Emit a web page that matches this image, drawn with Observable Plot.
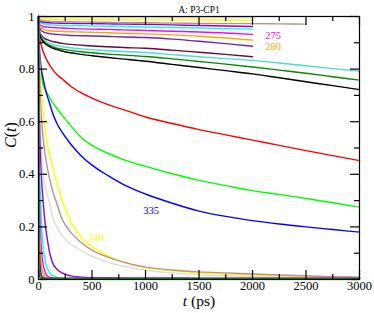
<!DOCTYPE html>
<html><head><meta charset="utf-8">
<script src="https://cdn.jsdelivr.net/npm/d3@7"></script>
<script src="https://cdn.jsdelivr.net/npm/@observablehq/plot@0.6"></script>
<style>
body{margin:0;background:#fff}
#chart{width:374px;height:313px}
#chart svg, #chart svg text{font-family:"Liberation Serif","Times New Roman",serif !important}
</style>
</head><body><div id="chart"></div>
<script>
const title = "A: P3-CP1";
const xLabel = "t (ps)";
const yLabel = "C(t)";
const xMajor = [0, 500, 1000, 1500, 2000, 2500, 3000];
const xMinor = [250, 750, 1250, 1750, 2250, 2750];
const xTickLabels = ["0", "500", "1000", "1500", "2000", "2500", "3000"];
const yMajor = [0, 0.2, 0.4, 0.6, 0.8, 1];
const yMinor = [0.1, 0.3, 0.5, 0.7, 0.9];
const yTickLabels = ["0", "0.2", "0.4", "0.6", "0.8", "1"];

const times = [0, 2, 5, 10, 20, 30, 45, 60, 80, 100, 130, 170, 220, 300, 400, 500, 650, 800, 1000, 1250, 1500, 1750, 2000, 2250, 2500, 2750, 3000];

// slow sets (end at 2000 ps, one at 2500 ps)
const sGray    = [1,.999,.998,.998,.997,.997,.997,.997,.996,.996,.996,.996,.996,.996,.995,.995,.995,.995,.995,.995,.995,.995,.995];
const sYellow  = [1,.996,.994,.993,.992,.991,.991,.990,.990,.990,.989,.989,.989,.989,.988,.988,.988,.988,.987,.987,.987,.986,.986];
const sBrown   = [1,.993,.990,.988,.986,.985,.984,.983,.982,.982,.981,.981,.980,.980,.979,.979,.978,.977,.976,.975,.974,.973,.973,.972,.971];
const sViolet  = [1,.990,.986,.983,.980,.979,.978,.977,.976,.976,.975,.975,.974,.974,.973,.973,.972,.971,.970,.968,.966,.964,.962];
const sCyan    = [1,.987,.982,.978,.975,.973,.972,.971,.970,.969,.968,.967,.966,.966,.965,.964,.963,.962,.960,.958,.956,.954,.952];
const s275     = [1,.982,.975,.970,.966,.964,.962,.961,.960,.959,.958,.957,.956,.955,.953,.952,.951,.949,.947,.944,.941,.937,.932];
const s280     = [1,.978,.970,.963,.957,.954,.951,.949,.947,.946,.945,.944,.943,.942,.941,.940,.938,.936,.934,.930,.925,.918,.910];
const sIndigo  = [1,.974,.964,.956,.949,.945,.942,.939,.937,.935,.933,.932,.930,.928,.927,.926,.924,.922,.920,.914,.906,.897,.887];
const sMaroon  = [1,.968,.953,.943,.933,.927,.921,.916,.912,.909,.905,.902,.898,.894,.891,.888,.885,.882,.879,.872,.864,.856,.847];
// sets to 3000 ps
const sTurq    = [1,.968,.953,.941,.929,.921,.914,.908,.903,.899,.894,.890,.886,.881,.877,.874,.870,.867,.863,.855,.847,.840,.833,.823,.813,.802,.792];
const sGreen4  = [1,.964,.949,.936,.924,.916,.908,.902,.896,.891,.885,.880,.876,.871,.866,.862,.857,.853,.848,.839,.829,.819,.808,.796,.784,.771,.758];
const sBlack   = [1,.960,.945,.932,.920,.912,.903,.897,.891,.886,.880,.875,.869,.862,.856,.851,.844,.838,.830,.818,.806,.794,.782,.767,.752,.737,.722];
const sRed     = [1,.96,.94,.92,.90,.885,.865,.85,.833,.818,.80,.78,.763,.735,.71,.69,.665,.645,.618,.593,.57,.55,.53,.51,.49,.471,.452];
const sLime    = [1,.94,.89,.83,.79,.765,.74,.725,.71,.695,.673,.652,.625,.585,.54,.51,.48,.455,.43,.402,.377,.357,.338,.323,.308,.292,.275];
const s335     = [1,.95,.91,.87,.82,.79,.76,.73,.70,.675,.635,.595,.56,.515,.47,.435,.395,.36,.325,.29,.26,.24,.224,.211,.20,.19,.18];
const s340     = [1,.95,.90,.84,.76,.70,.63,.575,.52,.48,.43,.37,.30,.22,.16,.125,.09,.065,.045,.033,.025,.02,.016,.013,.01,.008,.007];
const fBrown   = [1,.93,.86,.78,.67,.60,.53,.48,.43,.39,.34,.29,.23,.18,.14,.112,.085,.065,.047,.036,.029,.025,.021,.017,.014,.011,.009];
const fGray    = [1,.90,.80,.68,.55,.47,.40,.36,.325,.295,.24,.20,.168,.135,.11,.088,.065,.05,.035,.025,.018,.014,.011,.009,.007,.006,.005];
const fViolet  = [1,.85,.70,.58,.45,.37,.29,.22,.16,.11,.065,.04,.025,.014,.009,.007,.006,.005,.005,.005,.004,.004,.004,.004,.004,.004,.004];
const fCyan    = [1,.75,.55,.42,.30,.20,.12,.075,.045,.028,.015,.008,.005,.004,.004,.004,.003,.003,.003,.003,.003,.003,.003,.003,.003,.003,.003];
const fMagenta = [1,.65,.45,.30,.17,.10,.055,.03,.015,.009,.006,.004,.004,.003,.003,.003,.003,.003,.003,.003,.003,.003,.003,.003,.003,.003,.003];
const fOrange  = [1,.55,.35,.20,.09,.045,.02,.01,.006,.004,.003,.003,.003,.003,.003,.003,.003,.003,.003,.003,.003,.003,.003,.003,.003,.003,.003];
const fIndigo  = [1,.45,.22,.10,.035,.015,.007,.005,.004,.004,.004,.004,.004,.004,.004,.004,.004,.004,.004,.004,.004,.004,.004,.004,.004,.004,.004];
const fMaroon  = [1,.35,.13,.045,.012,.006,.004,.004,.004,.004,.004,.004,.004,.004,.004,.004,.004,.004,.004,.004,.004,.004,.004,.004,.004,.004,.004];
const fTurq    = [1,.25,.07,.02,.006,.004,.003,.003,.003,.003,.003,.003,.003,.003,.003,.003,.003,.003,.003,.003,.003,.003,.003,.003,.003,.003,.003];
const fGreen4  = [1,.18,.04,.01,.004,.003,.003,.003,.003,.003,.003,.003,.003,.003,.003,.003,.003,.003,.003,.003,.003,.003,.003,.003,.003,.003,.003];

const seriesNames  = ["gray","yellow","brown","violet","cyan","275","280","indigo","maroon","turq","green4","black","red","lime","335","340","brown2","gray2","violet2","cyan2","magenta2","orange2","indigo2","maroon2","turq2","green42"];
const seriesColors = ["#dcdcdc","#ffff00","#bc8f8f","#9400d3","#00ffff","#ff00ff","#ffa500","#7221bc","#670748","#40e0d0","#008b00","#000000","#ff0000","#00ff00","#0000ff","#ffff00","#bc8f8f","#dcdcdc","#9400d3","#00ffff","#ff00ff","#ffa500","#7221bc","#670748","#40e0d0","#008b00"];
const seriesValues = [sGray,sYellow,sBrown,sViolet,sCyan,s275,s280,sIndigo,sMaroon,sTurq,sGreen4,sBlack,sRed,sLime,s335,s340,fBrown,fGray,fViolet,fCyan,fMagenta,fOrange,fIndigo,fMaroon,fTurq,fGreen4];

const labelTexts  = ["275", "280", "335", "340"];
const labelSeries = ["275", "280", "335", "340"];
const labelT = [2120, 2120, 980, 465];
const labelC = [0.929, 0.887, 0.26, 0.161];

const rows = [];
seriesValues.forEach((vals, k) => vals.forEach((v, i) => rows.push({t: times[i], c: v, s: seriesNames[k]})));

const W = 374, H = 313, mL = 38, mR = 15, mT = 16, mB = 34;
const innerW = W - mL - mR, innerH = H - mT - mB;
const major = 9, minor = 5;
const tickStyle = {stroke: "#000", strokeWidth: 1.2};
const serif = "'Liberation Serif', 'Times New Roman', serif";

const chart = Plot.plot({
  width: W, height: H,
  marginLeft: mL, marginRight: mR, marginTop: mT, marginBottom: mB,
  style: {fontFamily: serif, background: "#fff", overflow: "visible", color: "#000"},
  x: {domain: [0, 3000], axis: null},
  y: {domain: [0, 1], axis: null},
  color: {domain: seriesNames, range: seriesColors},
  marks: [
    Plot.line(rows, {x: "t", y: "c", z: "s", stroke: "s", strokeWidth: 1.4, curve: "monotone-x"}),
    Plot.frame({stroke: "#000", strokeWidth: 1.2}),
    Plot.tickX(xMajor, {x: d => d, insetTop: innerH - major, ...tickStyle}),
    Plot.tickX(xMinor, {x: d => d, insetTop: innerH - minor, ...tickStyle}),
    Plot.tickX(xMajor, {x: d => d, insetBottom: innerH - major, ...tickStyle}),
    Plot.tickX(xMinor, {x: d => d, insetBottom: innerH - minor, ...tickStyle}),
    Plot.tickY(yMajor, {y: d => d, insetRight: innerW - major, ...tickStyle}),
    Plot.tickY(yMinor, {y: d => d, insetRight: innerW - minor, ...tickStyle}),
    Plot.tickY(yMajor, {y: d => d, insetLeft: innerW - major, ...tickStyle}),
    Plot.tickY(yMinor, {y: d => d, insetLeft: innerW - minor, ...tickStyle}),
    Plot.text(xMajor, {x: d => d, frameAnchor: "bottom", dy: 10.5, text: (d, i) => xTickLabels[i], fontSize: 12.5, fontFamily: serif, fill: "#000"}),
    Plot.text(yMajor, {y: d => d, frameAnchor: "left", dx: -4, textAnchor: "end", text: (d, i) => yTickLabels[i], fontSize: 12.5, fontFamily: serif, fill: "#000"}),
    Plot.text(labelTexts, {x: (d, i) => labelT[i], y: (d, i) => labelC[i], text: d => d, fill: (d, i) => labelSeries[i], textAnchor: "start", fontSize: 10.5, fontFamily: serif}),
    Plot.text([xLabel], {frameAnchor: "bottom", dy: 26.5, text: d => d, fontSize: 15.5, fontFamily: serif, fill: "#000"}),
    Plot.text([yLabel], {frameAnchor: "left", dx: -28, rotate: -90, text: d => d, fontSize: 16, fontFamily: serif, fill: "#000"}),
    Plot.text([title], {frameAnchor: "top", dy: -10, text: d => d, fontSize: 9.5, fontFamily: serif, fill: "#000"})
  ]
});

d3.select(chart).selectAll("text").each(function () {
  const s = this.textContent;
  const el = d3.select(this);
  if (s === yLabel) {
    el.text(null);
    el.append("tspan").attr("font-style", "italic").text("C");
    el.append("tspan").text("(");
    el.append("tspan").attr("font-style", "italic").text("t");
    el.append("tspan").text(")");
  } else if (s === xLabel) {
    el.text(null);
    el.append("tspan").attr("font-style", "italic").text("t");
    el.append("tspan").text(" (ps)");
  }
});
document.getElementById("chart").append(chart);
</script></body></html>
